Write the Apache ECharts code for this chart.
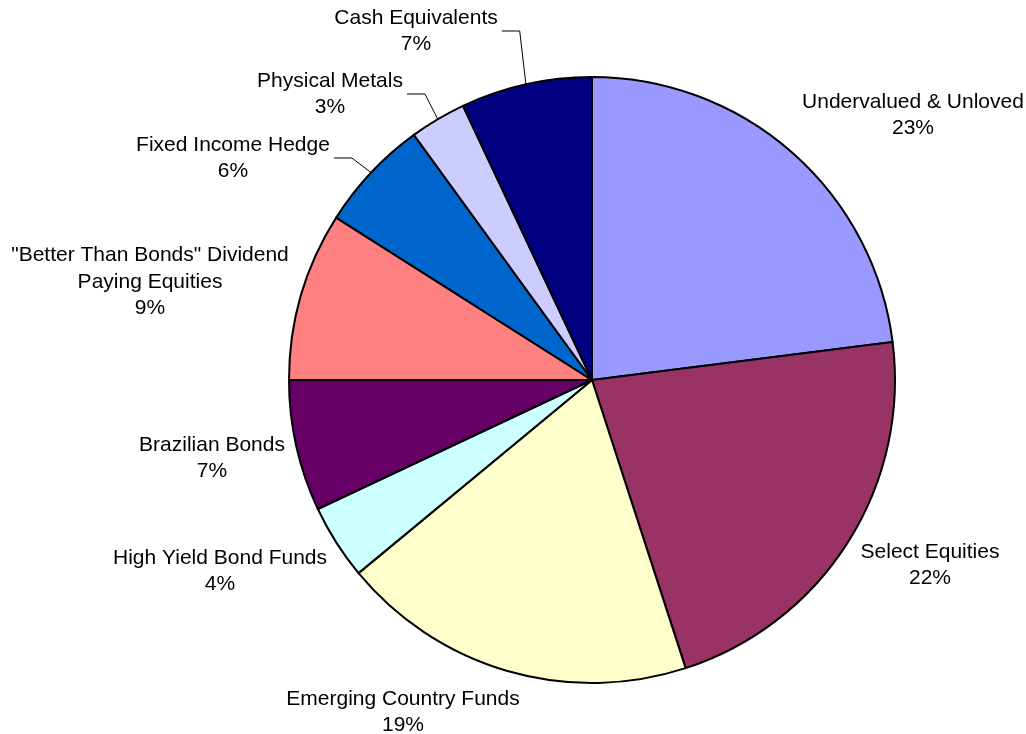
<!DOCTYPE html>
<html>
<head>
<meta charset="utf-8">
<script src="https://cdn.jsdelivr.net/npm/echarts@6/dist/echarts.min.js"></script>
<style>
html,body{margin:0;padding:0;background:#fff;}
#chart{width:1026px;height:734px;}
</style>
</head>
<body>
<div id="chart"></div>
<script>
// Data
const categories = [
  'Undervalued & Unloved',
  'Select Equities',
  'Emerging Country Funds',
  'High Yield Bond Funds',
  'Brazilian Bonds',
  '"Better Than Bonds" Dividend\nPaying Equities',
  'Fixed Income Hedge',
  'Physical Metals',
  'Cash Equivalents'
];
const values = [23, 22, 19, 4, 7, 9, 6, 3, 7];
const colors = ['#9999FF', '#993366', '#FFFFCC', '#CCFFFF', '#660066', '#FF8080', '#0066CC', '#CCCCFF', '#000080'];
// which labels have leader lines
const hasLeader = [false, false, false, false, false, false, true, true, true];
// label block centres (layout, not data)
const labelCenters = [
  [913, 115], [930, 565], [403, 712], [220, 571], [212, 458],
  [150, 282], [233, 158], [330, 94], [416, 31]
];

const chart = echarts.init(document.getElementById('chart'), null, {renderer: 'canvas'});
const option = {
  animation: false,
  backgroundColor: '#ffffff',
  series: [{
    type: 'pie',
    center: [592, 380],
    radius: 303,
    startAngle: 90,
    clockwise: true,
    avoidLabelOverlap: false,
    percentPrecision: 0,
    itemStyle: { borderColor: '#000000', borderWidth: 2 },
    label: {
      show: true,
      position: 'outside',
      formatter: '{b}\n{d}%',
      fontFamily: '"Liberation Sans", Arial, sans-serif',
      fontSize: 21,
      lineHeight: 26.5,
      color: '#000000',
      align: 'center',
      padding: [0, 4]
    },
    labelLine: {
      show: true,
      length: 15,
      length2: 18,
      lineStyle: { color: '#000000', width: 1 }
    },
    labelLayout: function (params) {
      const c = labelCenters[params.dataIndex];
      return { x: c[0], y: c[1], align: 'center', verticalAlign: 'middle' };
    },
    emphasis: { disabled: true },
    data: categories.map((name, i) => ({
      name: name,
      value: values[i],
      itemStyle: { color: colors[i] },
      labelLine: { show: hasLeader[i] }
    }))
  }]
};
chart.setOption(option);
</script>
</body>
</html>
